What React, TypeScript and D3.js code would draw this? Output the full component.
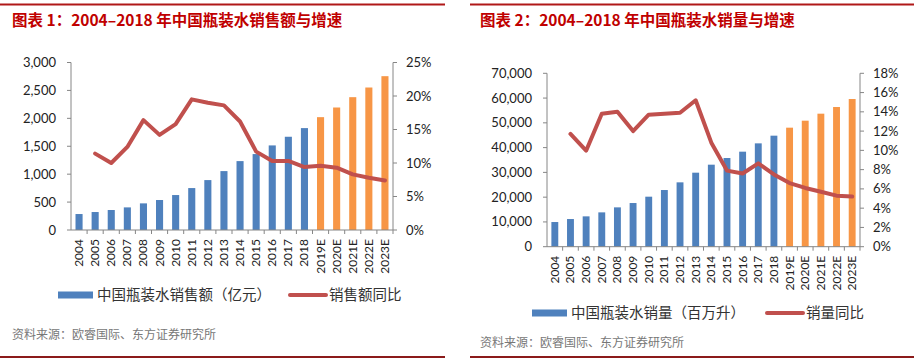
import React from "react";
import * as d3 from "d3";

const categories = ["2004","2005","2006","2007","2008","2009","2010","2011","2012","2013","2014","2015","2016","2017","2018","2019E","2020E","2021E","2022E","2023E"];
const salesValue = [286,322,358,405,477,537,626,751,894,1055,1234,1360,1515,1670,1825,2021,2194,2379,2552,2755];
const salesGrowth = [null,11.4,10.0,12.4,16.4,14.2,15.8,19.5,19.0,18.6,16.2,11.7,10.3,10.3,9.4,9.6,9.3,8.3,7.8,7.4];
const volumeValue = [9960,11170,12250,13860,15880,17630,20190,22880,25980,29880,33110,35800,38360,41720,44820,48050,50870,53700,56390,59620];
const volumeGrowth = [null,11.7,9.97,13.8,14.0,12.0,13.7,13.8,13.9,15.2,10.8,7.9,7.6,8.65,7.5,6.6,6.1,5.7,5.3,5.2];
const leftTicks1 = [0,500,1000,1500,2000,2500,3000];
const rightTicks1 = [0,5,10,15,20,25];
const leftTicks2 = [0,10000,20000,30000,40000,50000,60000,70000];
const rightTicks2 = [0,2,4,6,8,10,12,14,16,18];

const BLUE = "#4f81bd";
const ORANGE = "#f79646";
const RED = "#c0504d";
const AXIS = "#868686";
const TITLE_RED = "#c00000";
const NUM_FONT = "Lato, 'Open Sans', sans-serif";
const CJK_FONT = "'Noto Sans CJK SC', sans-serif";

type PanelProps = {
  x0: number; x1: number; top: number; bottom: number;
  values: number[]; growth: (number | null)[];
  leftTicks: number[]; rightTicks: number[];
  title: string; titleX: number; ruleX0: number; ruleX1: number;
  legendY: number; legBarX: number; legBarText: string; legLineX: number; legLineText: string;
  sourceX: number; sourceY: number;
};

function Panel(p: PanelProps) {
  const x = d3.scaleBand<string>().domain(categories).range([p.x0, p.x1]).paddingInner(0.56).paddingOuter(0.28);
  const xb = d3.scaleBand<string>().domain(categories).range([p.x0, p.x1]);
  const y = d3.scaleLinear().domain([0, d3.max(p.leftTicks)!]).range([p.bottom, p.top]);
  const y2 = d3.scaleLinear().domain([0, d3.max(p.rightTicks)!]).range([p.bottom, p.top]);
  const pts = categories.map((c, i) => ({ c, v: p.growth[i] }));
  const line = d3.line<{ c: string; v: number | null }>()
    .defined(d => d.v != null)
    .x(d => xb(d.c)! + xb.bandwidth() / 2)
    .y(d => y2(d.v as number))
    .curve(d3.curveLinear);
  const fmt = d3.format(",");
  return (
    <g>
      <line x1={p.ruleX0} x2={p.ruleX1} y1={4.5} y2={4.5} stroke="#b01818" strokeWidth={2} />
      <text x={p.titleX} y={26} fontFamily={CJK_FONT} fontWeight="bold" fontSize={15.5} fill={TITLE_RED}>{p.title}</text>
      {categories.map((c, i) => (
        <rect key={c} x={x(c)} y={y(p.values[i])} width={x.bandwidth()} height={p.bottom - y(p.values[i])} fill={c.endsWith("E") ? ORANGE : BLUE} />
      ))}
      <path d={line(pts) || ""} fill="none" stroke={RED} strokeWidth={4} strokeLinejoin="round" strokeLinecap="round" />
      {/* left axis */}
      <line x1={p.x0} x2={p.x0} y1={p.top} y2={p.bottom} stroke={AXIS} />
      {p.leftTicks.map(t => (
        <g key={"l" + t}>
          <line x1={p.x0 - 4} x2={p.x0} y1={y(t)} y2={y(t)} stroke={AXIS} />
          <text x={p.x0 - 15} y={y(t)} dy="0.35em" textAnchor="end" fontFamily={NUM_FONT} fontSize={13} fill="#222">{fmt(t)}</text>
        </g>
      ))}
      {/* right axis */}
      <line x1={p.x1} x2={p.x1} y1={p.top} y2={p.bottom} stroke={AXIS} />
      {p.rightTicks.map(t => (
        <g key={"r" + t}>
          <line x1={p.x1} x2={p.x1 + 4} y1={y2(t)} y2={y2(t)} stroke={AXIS} />
          <text x={p.x1 + 13} y={y2(t)} dy="0.35em" textAnchor="start" fontFamily={NUM_FONT} fontSize={13} fill="#222">{t + "%"}</text>
        </g>
      ))}
      {/* x axis */}
      <line x1={p.x0} x2={p.x1} y1={p.bottom} y2={p.bottom} stroke={AXIS} />
      {categories.map(c => (
        <line key={"t" + c} x1={xb(c)! + xb.bandwidth()} x2={xb(c)! + xb.bandwidth()} y1={p.bottom} y2={p.bottom + 4} stroke={AXIS} />
      ))}
      {categories.map(c => {
        const cx = xb(c)! + xb.bandwidth() / 2;
        const ty = p.bottom + 9;
        return (
          <text key={"x" + c} transform={`translate(${cx + 4},${ty}) rotate(-90)`} textAnchor="end" fontFamily={NUM_FONT} fontSize={12} fill="#222">{c}</text>
        );
      })}
      {/* legend */}
      <rect x={p.legBarX} y={p.legendY - 3.5} width={35} height={7} fill={BLUE} />
      <text x={p.legBarX + 39} y={p.legendY} dy="0.36em" fontFamily={CJK_FONT} fontSize={14.5} fill="#333">{p.legBarText}</text>
      <line x1={p.legLineX} x2={p.legLineX + 36} y1={p.legendY} y2={p.legendY} stroke={RED} strokeWidth={4} strokeLinecap="round" />
      <text x={p.legLineX + 39} y={p.legendY} dy="0.36em" fontFamily={CJK_FONT} fontSize={14.5} fill="#333">{p.legLineText}</text>
      {/* source */}
      <text x={p.sourceX} y={p.sourceY} dy="0.36em" fontFamily={CJK_FONT} fontSize={12} fill="#777">资料来源：欧睿国际、东方证券研究所</text>
      <line x1={p.ruleX0} x2={p.ruleX1} y1={357} y2={357} stroke="#8b1a1a" strokeWidth={2} />
    </g>
  );
}

export default function App() {
  return (
    <svg width={918} height={360} style={{ position: "absolute", left: 0, top: 0, background: "#fff" }}>
      <rect width={918} height={360} fill="#fff" />
      <Panel x0={71} x1={393} top={62.5} bottom={230} values={salesValue} growth={salesGrowth}
        leftTicks={leftTicks1} rightTicks={rightTicks1}
        title="图表 1：2004–2018 年中国瓶装水销售额与增速" titleX={12} ruleX0={0} ruleX1={445}
        legendY={295} legBarX={58} legBarText="中国瓶装水销售额（亿元）" legLineX={290} legLineText="销售额同比"
        sourceX={12} sourceY={335} />
      <Panel x0={547} x1={860} top={73.3} bottom={246.7} values={volumeValue} growth={volumeGrowth}
        leftTicks={leftTicks2} rightTicks={rightTicks2}
        title="图表 2：2004–2018 年中国瓶装水销量与增速" titleX={480} ruleX0={470} ruleX1={914}
        legendY={313} legBarX={532} legBarText="中国瓶装水销量（百万升）" legLineX={767} legLineText="销量同比"
        sourceX={480} sourceY={343} />
    </svg>
  );
}
